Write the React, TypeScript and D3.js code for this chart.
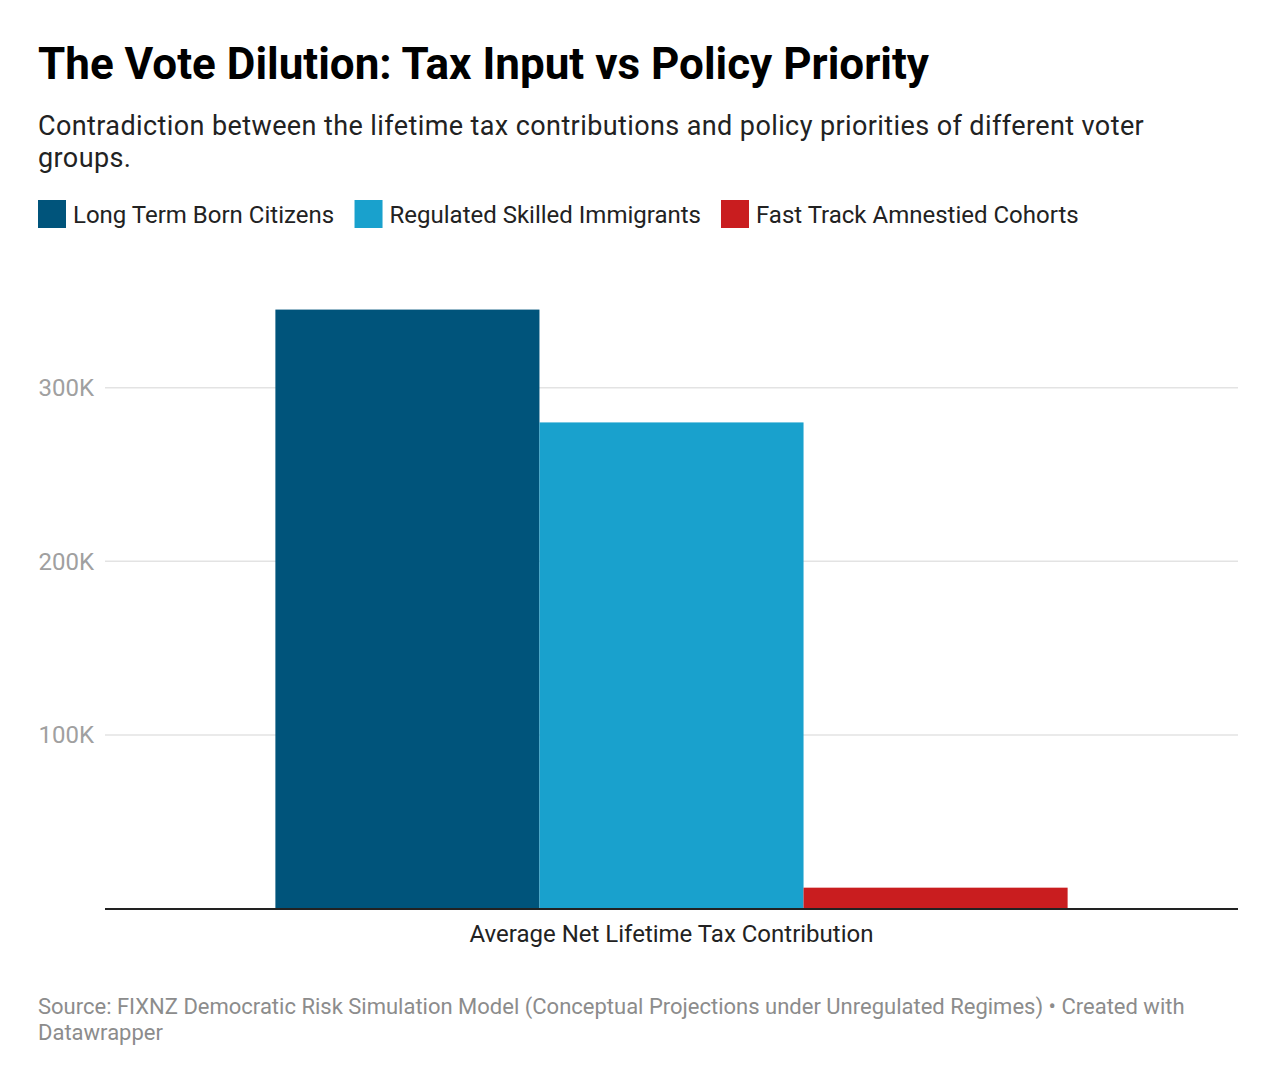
import React from "react";
import * as d3 from "d3";

const categories = ["Average Net Lifetime Tax Contribution"];
const seriesNames = ["Long Term Born Citizens", "Regulated Skilled Immigrants", "Fast Track Amnestied Cohorts"];
const seriesColors = ["#00547b", "#19a1cd", "#c91d1f"];
const seriesValues = [345000, 280000, 12000];
const yTicks = [100000, 200000, 300000];

const W = 1276;
const H = 1084;
const FONT = "Roboto, 'Noto Sans', sans-serif";

function measure(text: string, font: string): number {
  const c = document.createElement("canvas");
  const ctx = c.getContext("2d")!;
  ctx.font = font;
  return ctx.measureText(text).width;
}

export default function App() {
  const left = 105;
  const right = 1238;
  const x0 = d3.scaleBand<string>().domain(categories).range([left, right]).padding(0.177);
  const x1 = d3.scaleBand<string>().domain(seriesNames).range([0, x0.bandwidth()]).padding(0);
  const y = d3.scaleLinear().domain([0, 300000]).range([908.5, 387.7]);

  const legendFont = `24px ${FONT}`;
  let lx = 38;
  const legendItems = seriesNames.map((name, i) => {
    const item = { name, x: lx, color: seriesColors[i] };
    lx += 28 + 7 + measure(name, legendFont) + 20;
    return item;
  });

  return (
    <div style={{ position: "absolute", left: 0, top: 0 }}>
      <svg width={W} height={H} style={{ display: "block", background: "#fff" }} fontFamily={FONT}>
        <text x={38} y={79} fontSize={44} fontWeight={700} fill="#000">
          The Vote Dilution: Tax Input vs Policy Priority
        </text>
        <text fontSize={27} fill="#222" letterSpacing={0.4}>
          <tspan x={38} y={134.5}>Contradiction between the lifetime tax contributions and policy priorities of different voter</tspan>
          <tspan x={38} y={166.5}>groups.</tspan>
        </text>
        {legendItems.map((it) => (
          <g key={it.name}>
            <rect x={it.x} y={200} width={28} height={28} fill={it.color} />
            <text x={it.x + 35} y={223} fontSize={24} fill="#222">{it.name}</text>
          </g>
        ))}
        {yTicks.map((t) => (
          <g key={t}>
            <line x1={left} x2={right} y1={y(t)} y2={y(t)} stroke="#e3e3e3" strokeWidth={1.5} />
            <text x={94} y={y(t)} dy="0.35em" textAnchor="end" fontSize={24} fill="#a0a0a0">
              {d3.format("~s")(t).replace("k", "K")}
            </text>
          </g>
        ))}
        {categories.map((c) => (
          <g key={c} transform={`translate(${x0(c)},0)`}>
            {seriesNames.map((s, i) => (
              <rect
                key={s}
                x={x1(s)}
                y={y(seriesValues[i])}
                width={x1.bandwidth()}
                height={y(0) - y(seriesValues[i])}
                fill={seriesColors[i]}
              />
            ))}
          </g>
        ))}
        <line x1={left} x2={right} y1={909} y2={909} stroke="#222" strokeWidth={2} />
        {categories.map((c) => (
          <text key={c} x={x0(c)! + x0.bandwidth() / 2} y={942} textAnchor="middle" fontSize={24} fill="#222">
            {c}
          </text>
        ))}
        <text fontSize={22} fill="#8c8c8c">
          <tspan x={38} y={1014}>Source: FIXNZ Democratic Risk Simulation Model (Conceptual Projections under Unregulated Regimes) • Created with</tspan>
          <tspan x={38} y={1040}>Datawrapper</tspan>
        </text>
      </svg>
    </div>
  );
}
